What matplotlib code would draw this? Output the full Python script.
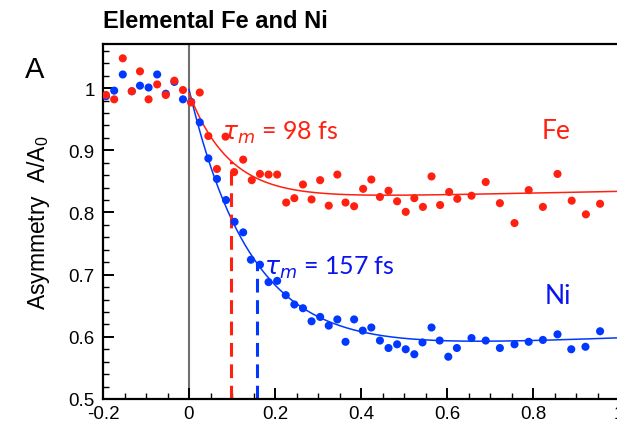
import numpy as np
import matplotlib
matplotlib.use("Agg")
import matplotlib.pyplot as plt
from matplotlib.ticker import MultipleLocator, FixedLocator

# ---------------- data ----------------
fe_x = [-0.193, -0.174, -0.154, -0.133, -0.114, -0.094, -0.074, -0.054, -0.034, -0.014,
        0.005, 0.025, 0.045, 0.065, 0.085, 0.105, 0.126, 0.146, 0.165, 0.185, 0.205,
        0.226, 0.245, 0.265, 0.285, 0.305, 0.325, 0.345, 0.364, 0.384, 0.405, 0.424,
        0.444, 0.464, 0.484, 0.504, 0.524, 0.544, 0.564, 0.584, 0.605, 0.624, 0.657,
        0.690, 0.723, 0.757, 0.790, 0.823, 0.857, 0.890, 0.923, 0.956]
fe_y = [0.989, 0.982, 1.048, 0.995, 1.027, 0.982, 1.006, 0.989, 1.012, 0.997,
        0.977, 0.993, 0.923, 0.870, 0.922, 0.865, 0.885, 0.852, 0.862, 0.861, 0.861,
        0.816, 0.823, 0.845, 0.821, 0.852, 0.811, 0.861, 0.816, 0.810, 0.838, 0.853,
        0.825, 0.835, 0.818, 0.801, 0.823, 0.809, 0.858, 0.812, 0.833, 0.822, 0.827,
        0.849, 0.815, 0.783, 0.836, 0.809, 0.862, 0.819, 0.797, 0.814]

ni_x = [-0.193, -0.174, -0.154, -0.133, -0.114, -0.094, -0.074, -0.054, -0.034, -0.014,
        0.005, 0.025, 0.045, 0.065, 0.086, 0.106, 0.126, 0.144, 0.165, 0.185, 0.205,
        0.225, 0.245, 0.265, 0.285, 0.305, 0.325, 0.345, 0.364, 0.384, 0.404, 0.424,
        0.444, 0.464, 0.484, 0.504, 0.524, 0.543, 0.564, 0.583, 0.603, 0.623, 0.657,
        0.690, 0.723, 0.757, 0.790, 0.823, 0.857, 0.889, 0.922, 0.956]
ni_y = [0.987, 0.996, 1.022, 0.995, 1.004, 1.001, 1.022, 0.991, 1.010, 0.982,
        0.978, 0.945, 0.887, 0.854, 0.820, 0.785, 0.768, 0.724, 0.716, 0.688, 0.690,
        0.667, 0.652, 0.646, 0.625, 0.632, 0.618, 0.628, 0.592, 0.628, 0.610, 0.615,
        0.594, 0.582, 0.588, 0.580, 0.572, 0.591, 0.615, 0.594, 0.568, 0.582, 0.598,
        0.594, 0.582, 0.588, 0.592, 0.595, 0.604, 0.580, 0.584, 0.609]

# fit parameters: y = base + slope*t + amp*exp(-t/tau), t >= 0
fe_fit = dict(base=0.820, slope=0.014, amp=0.172, tau=0.095)
ni_fit = dict(base=0.570, slope=0.028, amp=0.428, tau=0.145)
fe_tau_m = 0.098   # ps
ni_tau_m = 0.157   # ps

x_ticks = [-0.2, 0, 0.2, 0.4, 0.6, 0.8, 1.0]
x_labels = ['-0.2', '0', '0.2', '0.4', '0.6', '0.8', '1']
y_ticks = [0.5, 0.6, 0.7, 0.8, 0.9, 1.0]
y_labels = ['0.5', '0.6', '0.7', '0.8', '0.9', '1']

RED = '#ff2010'
BLUE = '#0038ff'
TXT_BLUE = '#0a14f0'


def model(t, p):
    return p['base'] + p['slope'] * t + p['amp'] * np.exp(-t / p['tau'])


plt.rcParams['font.family'] = ['Liberation Sans', 'DejaVu Sans']
plt.rcParams['mathtext.fontset'] = 'custom'
plt.rcParams['mathtext.it'] = 'DejaVu Sans:italic'
plt.rcParams['mathtext.rm'] = 'Lato'

W, H = 617, 427
fig = plt.figure(figsize=(W / 100, H / 100), dpi=100)
ax = fig.add_axes([103 / W, 27 / H, 516 / W, 355 / H])
ax.set_xlim(-0.2, 1.0)
ax.set_ylim(0.5, 1.071)

for s in ax.spines.values():
    s.set_linewidth(1.6)

ax.xaxis.set_major_locator(FixedLocator(x_ticks))
ax.set_xticklabels(x_labels)
ax.yaxis.set_major_locator(FixedLocator(y_ticks))
ax.set_yticklabels(y_labels)
ax.xaxis.set_minor_locator(MultipleLocator(0.05))
ax.yaxis.set_minor_locator(MultipleLocator(0.02))
ax.tick_params(which='both', direction='in', top=False, right=False, labelsize=13.5)
ax.tick_params(which='major', length=8, width=1.4)
ax.tick_params(which='minor', length=4, width=1.0)
ax.tick_params(axis='x', pad=4)
ax.tick_params(axis='y', pad=6)

# time-zero line
ax.axvline(0, color='#707070', lw=1.5, zorder=1)

# fits
t = np.linspace(0, 1.0, 400)
ax.plot(t, model(t, ni_fit), color=BLUE, lw=1.1, zorder=2)
ax.plot(t, model(t, fe_fit), color=RED, lw=1.1, zorder=2)

# tau_m markers
ax.plot([fe_tau_m, fe_tau_m], [0.5, model(fe_tau_m, fe_fit)], color=RED, lw=2.2,
        ls=(0, (4.5, 2.5)), zorder=2)
ax.plot([ni_tau_m, ni_tau_m], [0.5, model(ni_tau_m, ni_fit)], color=BLUE, lw=2.2,
        ls=(0, (4.5, 2.5)), zorder=2)

# data points
ax.scatter(ni_x, ni_y, s=34, color=BLUE, edgecolors='none', zorder=3)
ax.scatter(fe_x, fe_y, s=34, color=RED, edgecolors='none', zorder=4)

# annotations
ax.text(0.077, 0.930, r'$\tau_m$ = 98 fs', color=RED, fontsize=18, family='Lato',
        va='center', ha='left')
ax.text(0.175, 0.712, r'$\tau_m$ = 157 fs', color=TXT_BLUE, fontsize=18, family='Lato',
        va='center', ha='left')
ax.text(0.82, 0.932, 'Fe', color=RED, fontsize=19, family='Lato', va='center', ha='left')
ax.text(0.827, 0.667, 'Ni', color=TXT_BLUE, fontsize=19, family='Lato', va='center', ha='left')

ax.set_ylabel(r'Asymmetry  A/A$_0$', fontsize=16.5, labelpad=12)
plt.rcParams['mathtext.rm'] = 'Liberation Sans'

fig.text(103 / W, 1 - 21 / H, 'Elemental Fe and Ni', fontsize=17, fontweight='bold',
         va='center', ha='left')
fig.text(25 / W, 1 - 70 / H, 'A', fontsize=21, va='center', ha='left')

fig.savefig('out.png', dpi=100)
